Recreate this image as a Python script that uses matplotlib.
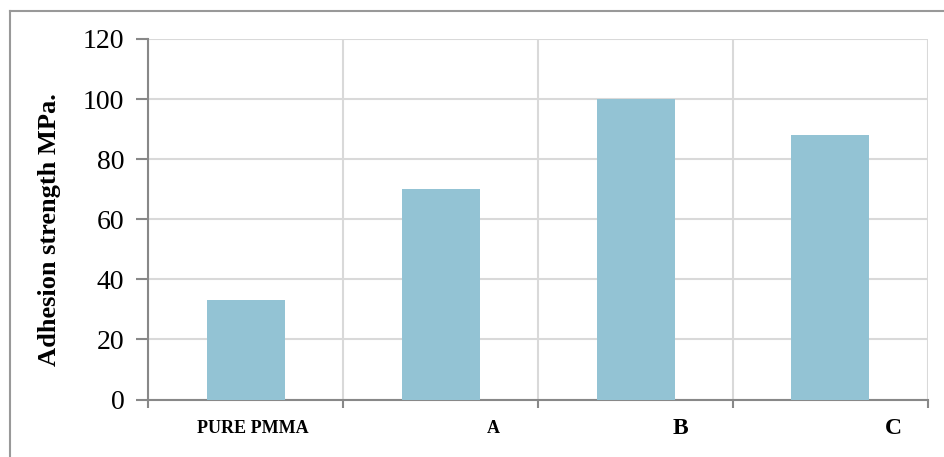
import matplotlib
matplotlib.use("Agg")
import matplotlib.pyplot as plt
from matplotlib.lines import Line2D

categories = ["PURE PMMA", "A", "B", "C"]
values = [33, 70, 100, 88]
yticks = [0, 20, 40, 60, 80, 100, 120]
label_offsets = [0.04, 0.27, 0.23, 0.32]
label_sizes = [13, 13, 17, 17]

W, H = 945, 457
fig = plt.figure(figsize=(W / 100, H / 100), dpi=100)
ax = fig.add_axes([148 / W, 1 - 399.5 / H, (928 - 148) / W, (399.5 - 39) / H])

x = list(range(len(categories)))
ax.bar(x, values, width=0.4, color="#93C3D4", zorder=3)

ax.set_xlim(-0.5, len(categories) - 0.5)
ax.set_ylim(0, 120)
ax.set_yticks(yticks)
ax.set_yticklabels([str(t) for t in yticks], fontfamily="Liberation Serif", fontsize=20)

bounds = [i - 0.5 for i in range(len(categories) + 1)]
ax.set_xticks(bounds)
ax.set_xticklabels([])
for b in bounds:
    ax.axvline(b, color="#d9d9d9", lw=1.5, zorder=1)
for t in yticks:
    ax.axhline(t, color="#d9d9d9", lw=1.5, zorder=1)

for s in ["top", "right"]:
    ax.spines[s].set_visible(False)
for s in ["left", "bottom"]:
    ax.spines[s].set_color("#888888")
    ax.spines[s].set_linewidth(1.5)
ax.tick_params(axis="y", length=9, width=1.5, color="#888888", pad=8)
ax.tick_params(axis="x", length=6, width=1.5, color="#888888")

for i, (c, off, fs) in enumerate(zip(categories, label_offsets, label_sizes)):
    ax.text(i + off, -9.5, c, ha="center", va="center", fontfamily="Liberation Serif",
            fontweight="bold", fontsize=fs, transform=ax.transData, clip_on=False)

ax.set_ylabel("Adhesion strength MPa.", fontfamily="Liberation Serif", fontweight="bold",
              fontsize=19)
ax.yaxis.set_label_coords(-0.111, 0.47)

# outer frame (left and top)
fig.add_artist(Line2D([10 / W, 10 / W], [0, 1 - 11 / H], color="#999999", lw=1.5,
                      transform=fig.transFigure))
fig.add_artist(Line2D([10 / W, 1], [1 - 11 / H, 1 - 11 / H], color="#999999", lw=1.5,
                      transform=fig.transFigure))

fig.savefig("out.png", dpi=100)
